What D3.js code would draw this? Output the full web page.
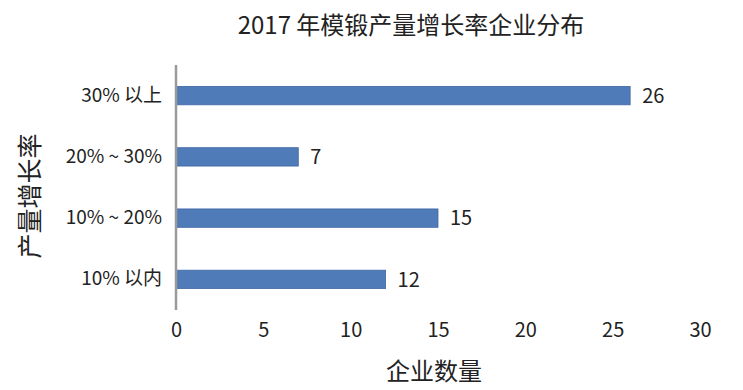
<!DOCTYPE html>
<html lang="zh">
<head>
<meta charset="UTF-8">
<title>2017 年模锻产量增长率企业分布</title>
<script src="https://cdn.jsdelivr.net/npm/d3@7"></script>
<style>
    body { margin: 0; background: #fff; }
    svg text { font-family: "Liberation Sans Narrow", "Noto Sans CJK SC", sans-serif; fill: #222; }
</style>
</head>
<body>
<svg id="chart" width="743" height="390"></svg>
<script>
    // data
    const categories = ["30% 以上", "20% ~ 30%", "10% ~ 20%", "10% 以内"];
    const counts = [26, 7, 15, 12];
    const xTicks = [0, 5, 10, 15, 20, 25, 30];

    const svg = d3.select("#chart");

    const x = d3.scaleLinear().domain([0, 30]).range([176, 700]);
    const y = d3.scaleBand().domain(categories).range([65, 310]).paddingInner(0.7).paddingOuter(0.35);

    // title
    svg.append("text")
        .attr("x", 411).attr("y", 34)
        .attr("text-anchor", "middle")
        .style("font-size", "24px")
        .text("2017 年模锻产量增长率企业分布");

    // bars
    svg.selectAll("rect.bar")
        .data(counts)
        .enter().append("rect")
        .attr("class", "bar")
        .attr("x", x(0))
        .attr("y", (d, i) => y(categories[i]))
        .attr("width", d => x(d) - x(0))
        .attr("height", y.bandwidth())
        .attr("fill", "#4f7bb9")
        .attr("stroke", "#3f68a3")
        .attr("stroke-width", 0.8);

    // value labels
    svg.selectAll("text.val")
        .data(counts)
        .enter().append("text")
        .attr("class", "val")
        .attr("x", d => x(d) + 12)
        .attr("y", (d, i) => y(categories[i]) + y.bandwidth() / 2)
        .attr("dy", "0.36em")
        .style("font-size", "20px")
        .text(d => d);

    // category axis
    const yAxis = svg.append("g")
        .attr("transform", `translate(${x(0)},0)`)
        .call(d3.axisLeft(y).tickSize(0).tickPadding(14));
    yAxis.select(".domain").remove();
    yAxis.selectAll("text")
        .style("font-size", "19px")
        .style("fill", "#222");
    svg.append("line")
        .attr("x1", x(0)).attr("x2", x(0))
        .attr("y1", 65).attr("y2", 310)
        .attr("stroke", "#9a9a9a")
        .attr("stroke-width", 2.5);

    // value axis
    const xAxis = svg.append("g")
        .attr("transform", "translate(0,319)")
        .call(d3.axisBottom(x).tickValues(xTicks).tickSize(0).tickPadding(4));
    xAxis.select(".domain").remove();
    xAxis.selectAll("text")
        .style("font-size", "20px")
        .style("fill", "#222");

    // axis titles
    svg.append("text")
        .attr("x", 434).attr("y", 380)
        .attr("text-anchor", "middle")
        .style("font-size", "24px")
        .text("企业数量");

    svg.append("text")
        .attr("transform", "translate(39,196) rotate(-90)")
        .attr("text-anchor", "middle")
        .style("font-size", "25px")
        .text("产量增长率");
</script>
</body>
</html>
